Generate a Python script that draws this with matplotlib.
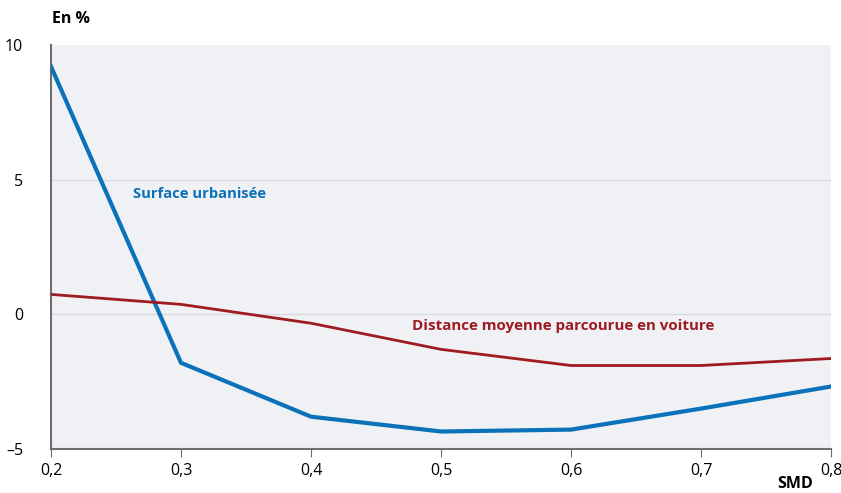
import matplotlib.pyplot as plt
from matplotlib.ticker import FuncFormatter

plt.rcParams['font.family'] = ['Open Sans', 'DejaVu Sans']

# Data
smd = [0.2, 0.3, 0.4, 0.5, 0.6, 0.7, 0.8]
surface = [9.2, -1.8, -3.8, -4.35, -4.28, -3.5, -2.68]
distance = [0.74, 0.37, -0.33, -1.3, -1.9, -1.9, -1.64]
yticks = [-5, 0, 5, 10]
xticks = [0.2, 0.3, 0.4, 0.5, 0.6, 0.7, 0.8]

blue = '#0b72b9'
red = '#9e1b22'

fig = plt.figure(figsize=(8.41, 4.93), dpi=100)
ax = fig.add_axes([51/841, 1 - 449/493, 780/841, 404/493])
ax.set_facecolor('#f0f1f4')

ax.plot(smd, surface, color=blue, lw=3, solid_joinstyle='miter', zorder=3)
ax.plot(smd, distance, color=red, lw=2, zorder=3)

ax.set_xlim(0.2, 0.8)
ax.set_ylim(-5, 10)
ax.set_xticks(xticks)
ax.set_yticks(yticks)
ax.xaxis.set_major_formatter(FuncFormatter(lambda v, p: f'{v:.1f}'.replace('.', ',')))
ax.yaxis.set_major_formatter(FuncFormatter(lambda v, p: f'{int(v)}'.replace('-', '\u2013')))
for y in [0, 5]:
    ax.axhline(y, color='#d9dadd', lw=1, zorder=1)

for s in ['top', 'right']:
    ax.spines[s].set_visible(False)
ax.spines['left'].set_color('#6e6e6e')
ax.spines['bottom'].set_color('#6e6e6e')
ax.spines['left'].set_linewidth(1.5)
ax.spines['bottom'].set_linewidth(1.5)
ax.tick_params(axis='y', length=0, labelsize=11.5, pad=20)
ax.tick_params(axis='x', length=6, color='#6e6e6e', labelsize=11.5, pad=4)

ax.text(0.001, 1.045, 'En %', transform=ax.transAxes, fontsize=11.5,
        fontweight='bold', ha='left', va='bottom')
ax.text(0.786, -6.3, 'SMD', fontsize=11.5, fontweight='bold', ha='right', va='center')
ax.text(0.263, 4.46, 'Surface urbanisée', color=blue, fontsize=10.6,
        fontweight='bold', va='center')
ax.text(0.478, -0.45, 'Distance moyenne parcourue en voiture', color=red,
        fontsize=10.9, fontweight='bold', va='center')

fig.savefig('out.png', dpi=100)
